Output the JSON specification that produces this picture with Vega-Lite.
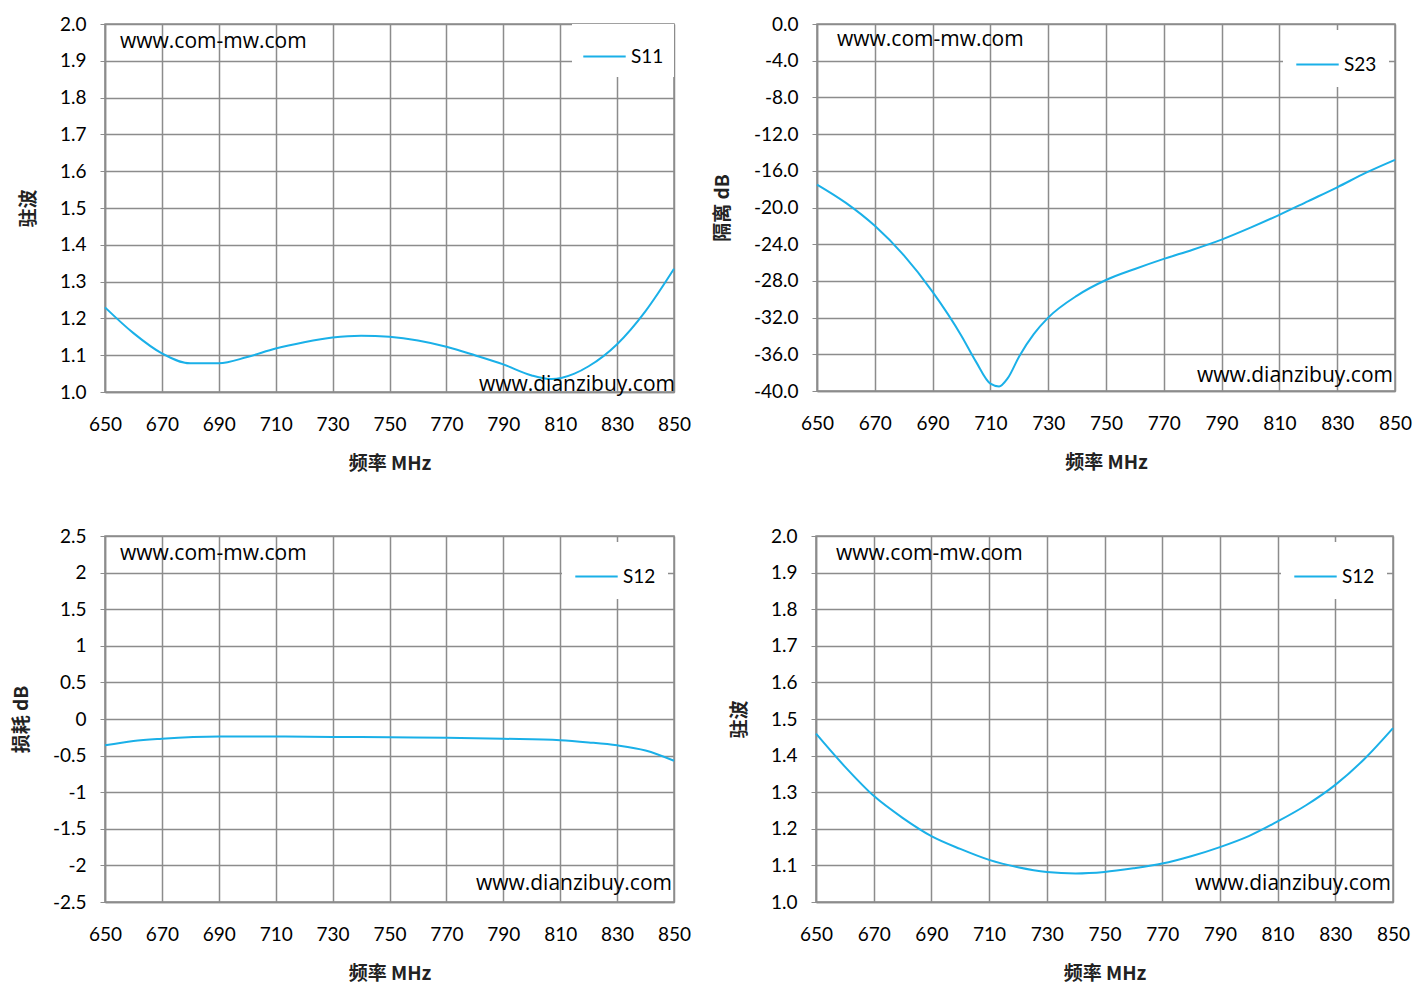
{
  "$schema": "https://vega.github.io/schema/vega-lite/v6.json",
  "background": "white",
  "padding": {"left": 11, "top": 14, "right": 5, "bottom": 5},
  "spacing": 52,
  "datasets": {
    "s11": [
      {"f": 650, "v": 1.23}, {"f": 660, "v": 1.16}, {"f": 670, "v": 1.105}, {"f": 680, "v": 1.078},
      {"f": 690, "v": 1.078}, {"f": 700, "v": 1.095}, {"f": 710, "v": 1.118}, {"f": 720, "v": 1.135},
      {"f": 730, "v": 1.148}, {"f": 740, "v": 1.153}, {"f": 750, "v": 1.15}, {"f": 760, "v": 1.14},
      {"f": 770, "v": 1.123}, {"f": 780, "v": 1.1}, {"f": 790, "v": 1.075}, {"f": 800, "v": 1.045},
      {"f": 807, "v": 1.035}, {"f": 815, "v": 1.05}, {"f": 820, "v": 1.07}, {"f": 830, "v": 1.13},
      {"f": 840, "v": 1.22}, {"f": 850, "v": 1.335}
    ],
    "s23": [
      {"f": 650, "v": -17.5}, {"f": 660, "v": -19.5}, {"f": 670, "v": -22}, {"f": 680, "v": -25.2},
      {"f": 690, "v": -29.2}, {"f": 700, "v": -34}, {"f": 705, "v": -36.8}, {"f": 710, "v": -39.2},
      {"f": 713, "v": -39.5}, {"f": 716, "v": -38.6}, {"f": 720, "v": -36.2}, {"f": 725, "v": -33.8},
      {"f": 730, "v": -32}, {"f": 740, "v": -29.6}, {"f": 750, "v": -27.9}, {"f": 760, "v": -26.7},
      {"f": 770, "v": -25.6}, {"f": 780, "v": -24.6}, {"f": 790, "v": -23.5}, {"f": 800, "v": -22.2},
      {"f": 810, "v": -20.8}, {"f": 820, "v": -19.3}, {"f": 830, "v": -17.8}, {"f": 840, "v": -16.2},
      {"f": 850, "v": -14.8}
    ],
    "s12": [
      {"f": 650, "v": -0.36}, {"f": 660, "v": -0.3}, {"f": 670, "v": -0.27}, {"f": 690, "v": -0.24},
      {"f": 710, "v": -0.24}, {"f": 730, "v": -0.245}, {"f": 750, "v": -0.25}, {"f": 770, "v": -0.255},
      {"f": 790, "v": -0.27}, {"f": 810, "v": -0.29}, {"f": 820, "v": -0.32}, {"f": 830, "v": -0.36},
      {"f": 840, "v": -0.43}, {"f": 850, "v": -0.57}
    ],
    "vswr": [
      {"f": 650, "v": 1.46}, {"f": 660, "v": 1.37}, {"f": 670, "v": 1.29}, {"f": 680, "v": 1.23},
      {"f": 690, "v": 1.18}, {"f": 700, "v": 1.145}, {"f": 710, "v": 1.115}, {"f": 720, "v": 1.095},
      {"f": 730, "v": 1.082}, {"f": 740, "v": 1.078}, {"f": 750, "v": 1.082}, {"f": 760, "v": 1.092},
      {"f": 770, "v": 1.105}, {"f": 780, "v": 1.125}, {"f": 790, "v": 1.15}, {"f": 800, "v": 1.18},
      {"f": 810, "v": 1.22}, {"f": 820, "v": 1.265}, {"f": 830, "v": 1.32}, {"f": 840, "v": 1.39},
      {"f": 850, "v": 1.475}
    ]
  },
  "vconcat": [
    {
      "spacing": 20,
      "hconcat": [
        {
          "width": 569, "height": 368,
          "encoding": {
            "x": {"field": "f", "type": "quantitative", "title": "频率 MHz", "scale": {"domain": [650, 850], "nice": false}, "axis": {"values": [650, 670, 690, 710, 730, 750, 770, 790, 810, 830, 850]}},
            "y": {"field": "v", "type": "quantitative", "title": "驻波", "scale": {"domain": [1.0, 2.0], "nice": false}, "axis": {"values": [1.0, 1.1, 1.2, 1.3, 1.4, 1.5, 1.6, 1.7, 1.8, 1.9, 2.0], "format": ".1f"}}
          },
          "layer": [
            {
              "data": {"name": "s11"},
              "transform": [{"calculate": "'S11'", "as": "s"}],
              "mark": {"type": "line", "interpolate": "monotone", "strokeWidth": 2},
              "encoding": {
                "color": {"field": "s", "type": "nominal", "scale": {"range": ["#1AB0E8"]}, "legend": {"orient": "top-right", "offset": 0, "padding": 10}}
              }
            },
            {
              "data": {"values": [{"f": 650, "v": 1.95, "t": "www.com-mw.com"}]},
              "mark": {"type": "text", "align": "left", "dx": 15, "fontSize": 21, "font": "Open Sans"},
              "encoding": {"text": {"field": "t"}}
            },
            {
              "data": {"values": [{"f": 850, "v": 1.02, "t": "www.dianzibuy.com"}]},
              "mark": {"type": "text", "align": "right", "dx": 1, "fontSize": 21, "font": "Open Sans"},
              "encoding": {"text": {"field": "t"}}
            }
          ]
        },
        {
          "width": 578, "height": 367,
          "encoding": {
            "x": {"field": "f", "type": "quantitative", "title": "频率 MHz", "scale": {"domain": [650, 850], "nice": false}, "axis": {"values": [650, 670, 690, 710, 730, 750, 770, 790, 810, 830, 850]}},
            "y": {"field": "v", "type": "quantitative", "title": "隔离 dB", "scale": {"domain": [-40, 0], "nice": false}, "axis": {"values": [-40, -36, -32, -28, -24, -20, -16, -12, -8, -4, 0], "format": ".1f"}}
          },
          "layer": [
            {
              "data": {"name": "s23"},
              "transform": [{"calculate": "'S23'", "as": "s"}],
              "mark": {"type": "line", "interpolate": "monotone", "strokeWidth": 2},
              "encoding": {
                "color": {"field": "s", "type": "nominal", "scale": {"range": ["#1AB0E8"]}, "legend": {"orient": "top-right", "offset": 6}}
              }
            },
            {
              "data": {"values": [{"f": 650, "v": -1.7, "t": "www.com-mw.com"}]},
              "mark": {"type": "text", "align": "left", "dx": 20, "fontSize": 21, "font": "Open Sans"},
              "encoding": {"text": {"field": "t"}}
            },
            {
              "data": {"values": [{"f": 850, "v": -38.4, "t": "www.dianzibuy.com"}]},
              "mark": {"type": "text", "align": "right", "dx": -2, "fontSize": 21, "font": "Open Sans"},
              "encoding": {"text": {"field": "t"}}
            }
          ]
        }
      ],
      "resolve": {"scale": {"color": "independent"}}
    },
    {
      "spacing": 37,
      "hconcat": [
        {
          "width": 569, "height": 366,
          "encoding": {
            "x": {"field": "f", "type": "quantitative", "title": "频率 MHz", "scale": {"domain": [650, 850], "nice": false}, "axis": {"values": [650, 670, 690, 710, 730, 750, 770, 790, 810, 830, 850]}},
            "y": {"field": "v", "type": "quantitative", "title": "损耗 dB", "scale": {"domain": [-2.5, 2.5], "nice": false}, "axis": {"values": [-2.5, -2, -1.5, -1, -0.5, 0, 0.5, 1, 1.5, 2, 2.5], "format": "~g"}}
          },
          "layer": [
            {
              "data": {"name": "s12"},
              "transform": [{"calculate": "'S12'", "as": "s"}],
              "mark": {"type": "line", "interpolate": "monotone", "strokeWidth": 2},
              "encoding": {
                "color": {"field": "s", "type": "nominal", "scale": {"range": ["#1AB0E8"]}, "legend": {"orient": "top-right", "offset": 6}}
              }
            },
            {
              "data": {"values": [{"f": 650, "v": 2.25, "t": "www.com-mw.com"}]},
              "mark": {"type": "text", "align": "left", "dx": 15, "fontSize": 21, "font": "Open Sans"},
              "encoding": {"text": {"field": "t"}}
            },
            {
              "data": {"values": [{"f": 850, "v": -2.25, "t": "www.dianzibuy.com"}]},
              "mark": {"type": "text", "align": "right", "dx": -2, "fontSize": 21, "font": "Open Sans"},
              "encoding": {"text": {"field": "t"}}
            }
          ]
        },
        {
          "width": 577, "height": 366,
          "encoding": {
            "x": {"field": "f", "type": "quantitative", "title": "频率 MHz", "scale": {"domain": [650, 850], "nice": false}, "axis": {"values": [650, 670, 690, 710, 730, 750, 770, 790, 810, 830, 850]}},
            "y": {"field": "v", "type": "quantitative", "title": "驻波", "scale": {"domain": [1.0, 2.0], "nice": false}, "axis": {"values": [1.0, 1.1, 1.2, 1.3, 1.4, 1.5, 1.6, 1.7, 1.8, 1.9, 2.0], "format": ".1f"}}
          },
          "layer": [
            {
              "data": {"name": "vswr"},
              "transform": [{"calculate": "'S12'", "as": "s"}],
              "mark": {"type": "line", "interpolate": "monotone", "strokeWidth": 2},
              "encoding": {
                "color": {"field": "s", "type": "nominal", "scale": {"range": ["#1AB0E8"]}, "legend": {"orient": "top-right", "offset": 6}}
              }
            },
            {
              "data": {"values": [{"f": 650, "v": 1.95, "t": "www.com-mw.com"}]},
              "mark": {"type": "text", "align": "left", "dx": 20, "fontSize": 21, "font": "Open Sans"},
              "encoding": {"text": {"field": "t"}}
            },
            {
              "data": {"values": [{"f": 850, "v": 1.05, "t": "www.dianzibuy.com"}]},
              "mark": {"type": "text", "align": "right", "dx": -2, "fontSize": 21, "font": "Open Sans"},
              "encoding": {"text": {"field": "t"}}
            }
          ]
        }
      ],
      "resolve": {"scale": {"color": "independent"}}
    }
  ],
  "resolve": {"scale": {"color": "independent"}},
  "config": {
    "view": {"stroke": "#8c8c8c", "strokeWidth": 1.5},
    "axis": {
      "labelFont": "Lato", "labelFontSize": 19, "labelColor": "#000", "labelOverlap": false, "labelFlush": false,
      "labelExpr": "replace(datum.label, '\u2212', '-')",
      "titleFont": "Noto Sans CJK SC", "titleFontSize": 19, "titleFontWeight": "bold", "titleColor": "#222",
      "gridColor": "#8c8c8c", "gridWidth": 1.5, "gridOpacity": 1,
      "domainColor": "#8c8c8c", "domainWidth": 1.5, "tickColor": "#8c8c8c", "tickSize": 5
    },
    "axisX": {"titlePadding": 20, "labelPadding": 23, "ticks": false},
    "axisY": {"titlePadding": 21, "labelPadding": 14},
    "legend": {
      "title": null, "symbolType": "stroke", "symbolStrokeWidth": 2, "symbolSize": 1800,
      "labelFont": "Lato", "labelFontSize": 19, "fillColor": "white", "padding": 12
    }
  }
}
